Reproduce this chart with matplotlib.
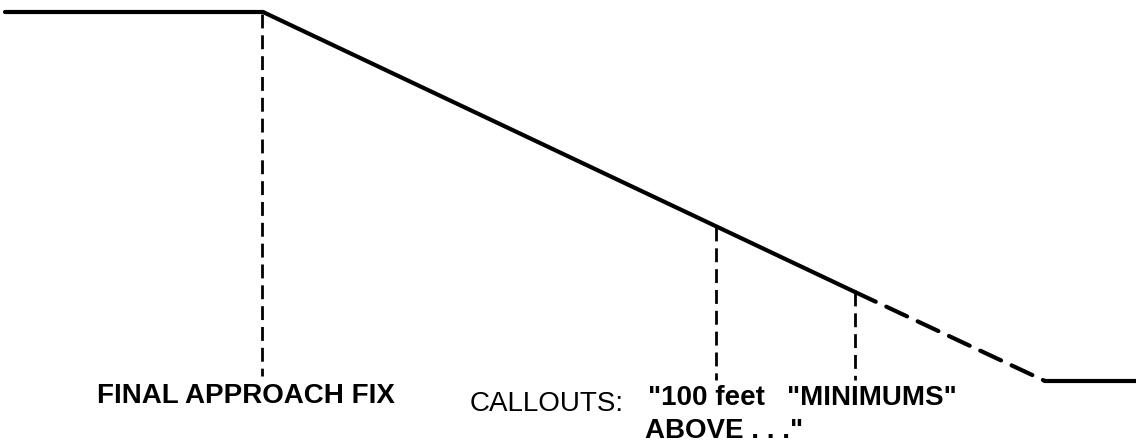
import matplotlib
matplotlib.use("Agg")
import matplotlib.pyplot as plt

# Flight path (x = distance in px-like units, y = height measured downward)
level_x = [5, 263]
level_y = [12, 12]
glide_x = [263, 855]
glide_y = [12, 292]
below_min_x = [855, 1045]
below_min_y = [292, 381]
runway_x = [1045, 1136]
runway_y = [381, 381]

# Vertical reference lines: x, top, bottom
marker_x = [262, 716, 855]
marker_top = [14, 227, 292]
marker_bottom = [376, 380, 380]

fig = plt.figure(figsize=(11.36, 4.46), dpi=100)
ax = fig.add_axes([0, 0, 1, 1])
ax.set_xlim(0, 1136)
ax.set_ylim(446, 0)
ax.axis("off")

lw_main = 3.0
ax.plot(level_x, level_y, color="black", lw=lw_main, solid_capstyle="round")
ax.plot(glide_x, glide_y, color="black", lw=lw_main, solid_capstyle="round")
ax.plot(below_min_x, below_min_y, color="black", lw=lw_main,
        dashes=(5.5, 2.8), dash_capstyle="round")
ax.plot(runway_x, runway_y, color="black", lw=lw_main, solid_capstyle="round")

for x, t, b in zip(marker_x, marker_top, marker_bottom):
    ax.plot([x, x], [t, b], color="black", lw=2.0, dashes=(5, 2.5))

font = "Liberation Sans"
fs = 20
ax.text(97, 403, "FINAL APPROACH FIX", fontsize=fs, fontweight="bold",
        family=font, ha="left", va="baseline")
ax.text(470, 411, "CALLOUTS:", fontsize=fs, family=font,
        ha="left", va="baseline")
ax.text(648, 405, "\"100 feet", fontsize=fs, fontweight="bold",
        family=font, ha="left", va="baseline")
ax.text(645, 438, "ABOVE . . .\"", fontsize=fs, fontweight="bold",
        family=font, ha="left", va="baseline")
ax.text(787, 405, "\"MINIMUMS\"", fontsize=fs, fontweight="bold",
        family=font, ha="left", va="baseline")

fig.savefig("out.png", dpi=100)
